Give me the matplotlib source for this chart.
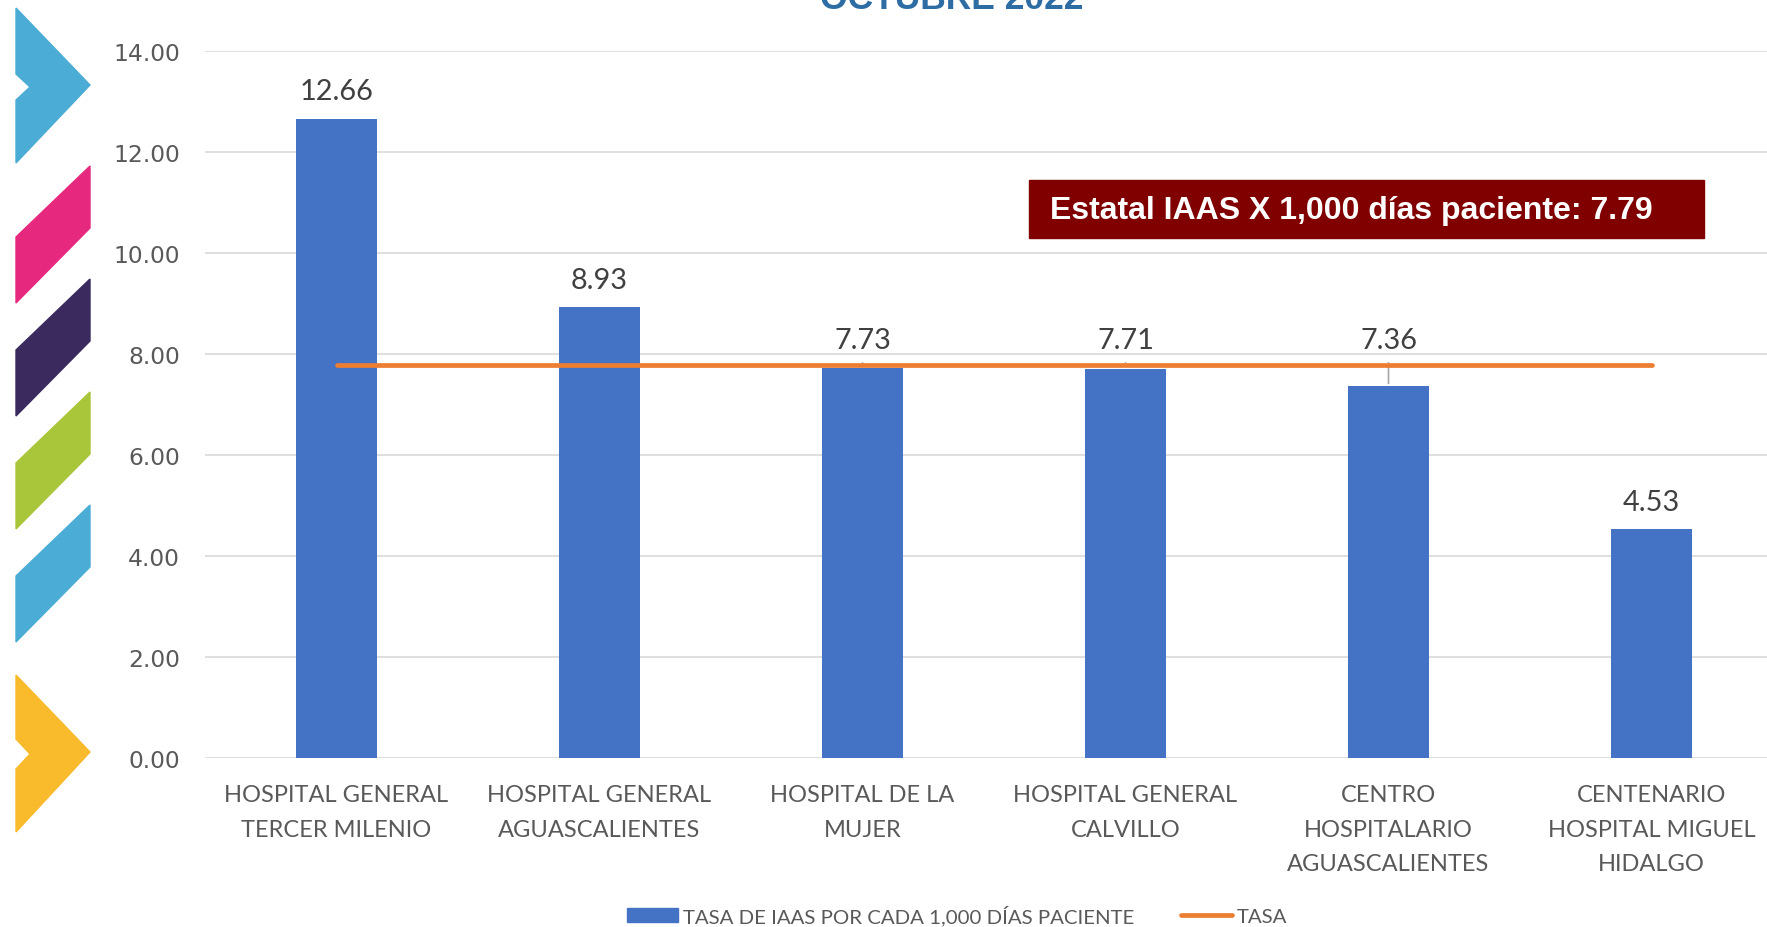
import matplotlib
matplotlib.use("Agg")
import matplotlib.pyplot as plt
from matplotlib.patches import Polygon, Rectangle, Patch
from matplotlib.lines import Line2D

categories = ["HOSPITAL GENERAL\nTERCER MILENIO", "HOSPITAL GENERAL\nAGUASCALIENTES",
              "HOSPITAL DE LA\nMUJER", "HOSPITAL GENERAL\nCALVILLO",
              "CENTRO\nHOSPITALARIO\nAGUASCALIENTES", "CENTENARIO\nHOSPITAL MIGUEL\nHIDALGO"]
tasa_iaas = [12.66, 8.93, 7.73, 7.71, 7.36, 4.53]
tasa_estatal = 7.79
y_ticks = [0, 2, 4, 6, 8, 10, 12, 14]
title_text = "OCTUBRE 2022"
box_text = "Estatal IAAS X 1,000 días paciente: 7.79"
legend_labels = ["TASA DE IAAS POR CADA 1,000 DÍAS PACIENTE", "TASA"]

W, H = 1767, 928
fig = plt.figure(figsize=(W / 100, H / 100), dpi=100)

def fx(px):
    return px / W

def fy(py):
    return 1 - py / H

ax = fig.add_axes([fx(205), fy(759), fx(6 * 263), fy(52) - fy(759)])
x = list(range(len(categories)))
bar_color = "#4472C4"
line_color = "#ED7D31"
ax.bar(x, tasa_iaas, width=0.31, color=bar_color, zorder=2)
ax.plot([x[0], x[-1]], [tasa_estatal, tasa_estatal], color=line_color, lw=3.4,
        solid_capstyle="round", zorder=3)
ax.set_xlim(-0.5, len(categories) - 0.5)
ax.set_ylim(0, 14)
ax.set_yticks(y_ticks)
ax.set_yticklabels([f"{v:.2f}" for v in y_ticks], fontsize=16.8, color="#595959",
                   family="DejaVu Sans")
ax.set_xticks(x)
ax.set_xticklabels(categories, fontsize=17, color="#595959", family="Lato",
                   linespacing=1.79, va="top")
ax.tick_params(axis="both", length=0)
ax.tick_params(axis="y", pad=18)
ax.tick_params(axis="x", pad=19)
ax.grid(axis="y", color="#D9D9D9", lw=1.2, zorder=0)
for s in ax.spines.values():
    s.set_visible(False)

# data labels
for xi, v in zip(x, tasa_iaas):
    if v < tasa_estatal and tasa_estatal - v < 1.0:
        ax.annotate(f"{v:.2f}", (xi, tasa_estatal), xytext=(0, 17.5), textcoords="offset points",
                    ha="center", va="center", fontsize=20.8, color="#404040", family="Lato")
        ax.annotate("", xy=(xi, v), xytext=(xi, tasa_estatal + 0.09),
                    arrowprops=dict(arrowstyle="-", color="#A6A6A6", lw=1.2), zorder=1)
    else:
        ax.annotate(f"{v:.2f}", (xi, v), xytext=(0, 19.8), textcoords="offset points",
                    ha="center", va="center", fontsize=20.8, color="#404040", family="Lato")

# title (cropped at top as in the reference)
fig.text(fx(952), fy(9), title_text, ha="center", va="baseline", fontsize=25.5,
         fontweight="bold", color="#2E6DA4", family="Liberation Sans")

# estatal box
fig.patches.append(Rectangle((fx(1029), fy(239)), fx(1704 - 1029), fy(181) - fy(239),
                             transform=fig.transFigure, color="#800000", zorder=5))
fig.text(fx(1050), fy(211), box_text, ha="left", va="center", fontsize=23,
         fontweight="bold", color="white", family="Liberation Sans", zorder=6)

# left decorative shapes
shapes = [
    ([(16, 9), (90, 86), (16, 164), (16, 101), (30, 88), (16, 75)], "#4BACD6"),
    ([(16, 238), (90, 167), (90, 229), (16, 304)], "#E6287F"),
    ([(16, 351), (90, 280), (90, 342), (16, 417)], "#3B2A5E"),
    ([(16, 464), (90, 393), (90, 455), (16, 530)], "#A9C63A"),
    ([(16, 577), (90, 506), (90, 568), (16, 643)], "#4BACD6"),
    ([(16, 676), (90, 753), (16, 833), (16, 770), (30, 755), (16, 740)], "#F9BA2B"),
]
for pts, c in shapes:
    fig.patches.append(Polygon([(fx(a), fy(b)) for a, b in pts], closed=True,
                               transform=fig.transFigure, color=c))

# legend
handles = [Patch(color=bar_color),
           Line2D([], [], color=line_color, lw=3.4, solid_capstyle="round")]
fig.legend(handles, legend_labels, loc="center", bbox_to_anchor=(fx(957), fy(916)),
           ncol=2, frameon=False, handlelength=2.5, handletextpad=0.25,
           columnspacing=2.3, prop=dict(family="Lato", size=14.7),
           labelcolor="#595959")

fig.savefig("out.png", dpi=100)
